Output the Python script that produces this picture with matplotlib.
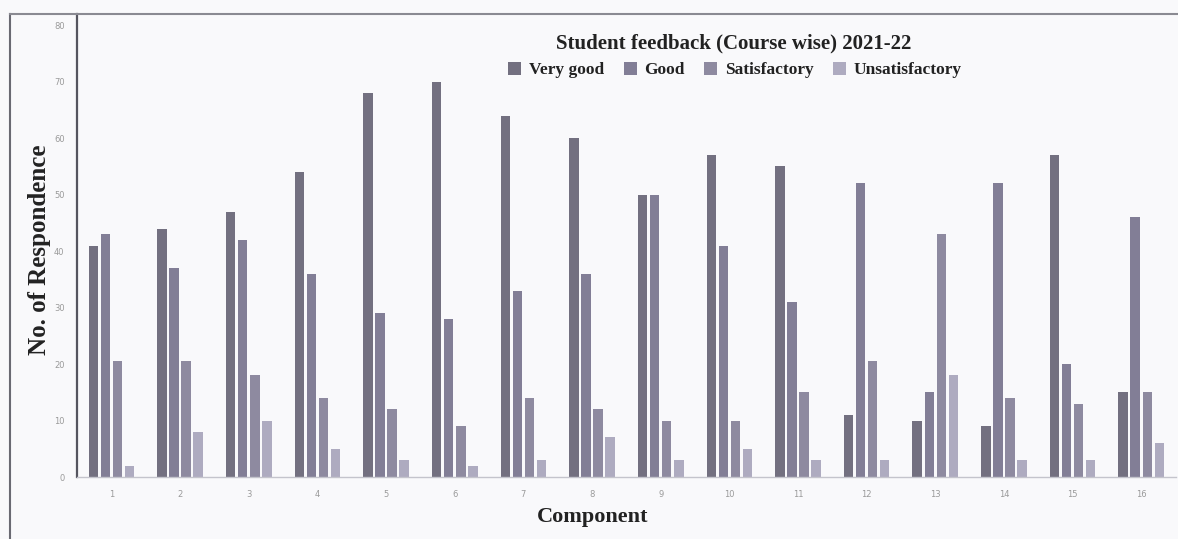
import matplotlib
matplotlib.use("Agg")
import matplotlib.pyplot as plt
import numpy as np
from matplotlib.lines import Line2D

components = [str(i) for i in range(1, 17)]
very_good = [41, 44, 47, 54, 68, 70, 64, 60, 50, 57, 55, 11, 10, 9, 57, 15]
good = [43, 37, 42, 36, 29, 28, 33, 36, 50, 41, 31, 52, 15, 52, 20, 46]
satisfactory = [20.5, 20.5, 18, 14, 12, 9, 14, 12, 10, 10, 15, 20.5, 43, 14, 13, 15]
unsatisfactory = [2, 8, 10, 5, 3, 2, 3, 7, 3, 5, 3, 3, 18, 3, 3, 6]
series_names = ["Very good", "Good", "Satisfactory", "Unsatisfactory"]
y_ticks = [0, 10, 20, 30, 40, 50, 60, 70, 80]

colors = ["#737080", "#827e96", "#8e8aa0", "#aeabc0"]
bg = "#f9f9fb"

fig = plt.figure(figsize=(11.78, 5.39), dpi=100, facecolor=bg)
ax = fig.add_axes([0.0654, 0.115, 0.9326, 0.859], facecolor=bg)

x = np.arange(1, len(components) + 1)
step = 0.175
width = 0.14
all_series = [very_good, good, satisfactory, unsatisfactory]
for i, (vals, name, c) in enumerate(zip(all_series, series_names, colors)):
    ax.bar(x + (i - 1.5) * step, vals, width=width, color=c, label=name,
           edgecolor=c, linewidth=0)

ax.set_xlim(0.5, 16.5)
ax.set_ylim(0, 82)
ax.set_xticks(x)
ax.set_xticklabels(components)
ax.set_yticks(y_ticks)
ax.set_yticklabels([str(t) for t in y_ticks])
ax.tick_params(axis="both", length=0, labelsize=6, labelcolor="#9a9a9a")
ax.tick_params(axis="y", pad=9)
ax.tick_params(axis="x", pad=9)

for s in ["top", "right"]:
    ax.spines[s].set_visible(False)
ax.spines["left"].set_color("#55555f")
ax.spines["left"].set_linewidth(1.6)
ax.spines["bottom"].set_color("#c4c4cc")
ax.spines["bottom"].set_linewidth(1.0)

serif = "Liberation Serif"
fig.text(40 / 1178, 1 - 250 / 539, "No. of Respondence", rotation=90, ha="center",
         va="center", fontsize=18, fontweight="bold", family=serif, color="#222222")
fig.text(593 / 1178, 1 - 517 / 539, "Component", ha="center", va="center",
         fontsize=16, fontweight="bold", family=serif, color="#222222")

fig.text(0.623, 1 - 43 / 539, "Student feedback (Course wise) 2021-22", ha="center",
         va="center", fontsize=15, fontweight="bold", family=serif, color="#222222")

leg = ax.legend(loc="center", bbox_to_anchor=(0.624, 1 - 70 / 539), bbox_transform=fig.transFigure,
                ncol=4, frameon=False, handlelength=0.75, handleheight=0.75,
                handletextpad=0.45, columnspacing=1.1,
                prop={"family": serif, "weight": "bold", "size": 12.5})
for t in leg.get_texts():
    t.set_color("#222222")

# outer frame (left and top)
fig.add_artist(Line2D([10 / 1178, 10 / 1178], [0, 1 - 14 / 539],
                      transform=fig.transFigure, color="#6a6a72", linewidth=1.5))
fig.add_artist(Line2D([10 / 1178, 1.0], [1 - 14 / 539, 1 - 14 / 539],
                      transform=fig.transFigure, color="#8a8a92", linewidth=1.5))

fig.savefig("out.png", dpi=100, facecolor=bg)
